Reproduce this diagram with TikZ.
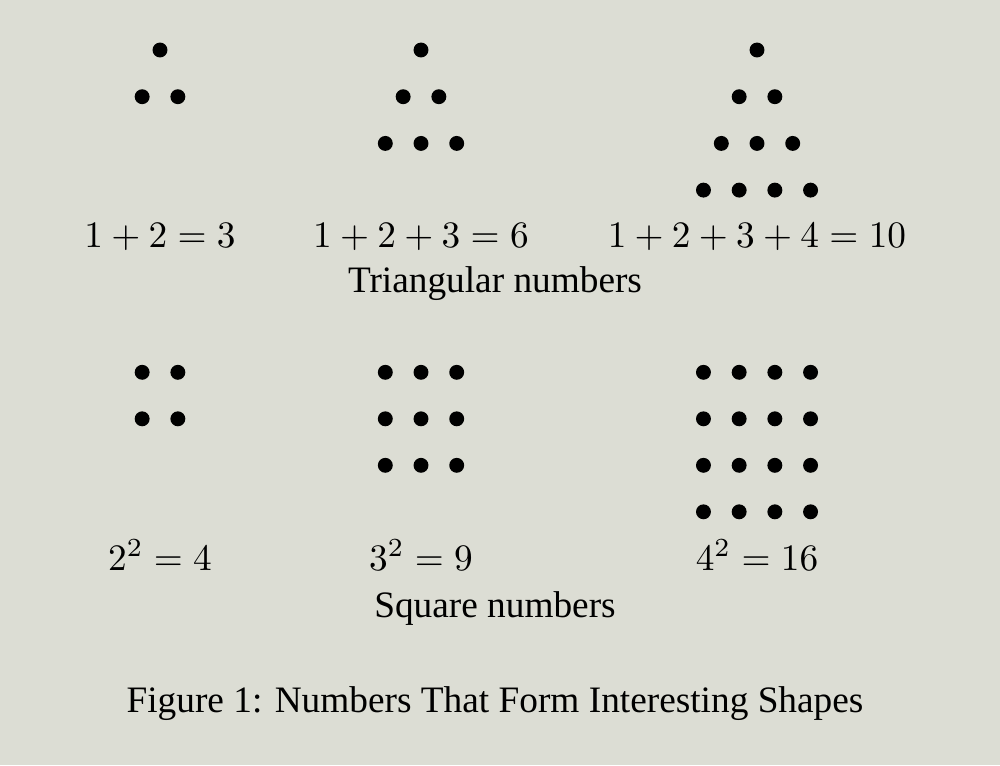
\documentclass[tikz,border=0pt]{standalone}
\usepackage{fontspec}
\setmainfont{Liberation Serif}
\definecolor{paper}{RGB}{220,221,212}

\begin{document}
\begin{tikzpicture}[x=0.268pt,y=-0.268pt,
  dot/.style={circle,fill=black,inner sep=0pt,minimum size=4pt},
  lbl/.style={anchor=base,inner sep=0pt}]
\fill [paper] (0,0) rectangle (1000,765);
% triangular numbers
\foreach \cx/\n/\g in {160/2/a,421/3/b,757/4/c}
  \foreach \r in {1,...,\n}
    \foreach \k in {1,...,\r}
      \node [dot] (t\g\r\k) at ({\cx+(\k-(\r+1)/2)*35.7},{50+(\r-1)*46.7}) {};
\node [lbl] (ta) at (160,247) {$1+2=3$};
\node [lbl] (tb) at (421,247) {$1+2+3=6$};
\node [lbl] (tc) at (757,247) {$1+2+3+4=10$};
\node [lbl] (tri) at (495,292) {Triangular numbers};
% square numbers
\foreach \cx/\n/\g in {160/2/a,421/3/b,757/4/c}
  \foreach \r in {1,...,\n}
    \foreach \k in {1,...,\n}
      \node [dot] (s\g\r\k) at ({\cx+(\k-(\n+1)/2)*35.7},{372.3+(\r-1)*46.5}) {};
\node [lbl] (sa) at (160,570) {$2^2=4$};
\node [lbl] (sb) at (421,570) {$3^2=9$};
\node [lbl] (sc) at (757,570) {$4^2=16$};
\node [lbl] (sqr) at (495,617) {Square numbers};
\node [lbl] (cap) at (495,712) {Figure 1: Numbers That Form Interesting Shapes};
\end{tikzpicture}
\end{document}
